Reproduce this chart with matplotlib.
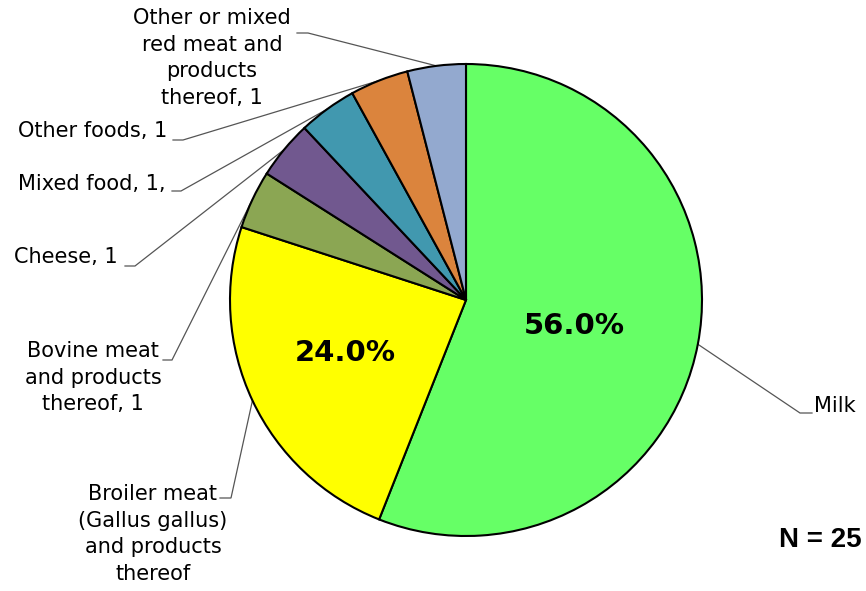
import matplotlib
matplotlib.use("Agg")
import matplotlib.pyplot as plt
import numpy as np

# Food categories and outbreak counts (N = 25)
categories = [
    "Milk",
    "Broiler meat\n(Gallus gallus)\nand products\nthereof",
    "Bovine meat\nand products\nthereof, 1",
    "Cheese, 1",
    "Mixed food, 1,",
    "Other foods, 1",
    "Other or mixed\nred meat and\nproducts\nthereof, 1",
]
counts = [14, 6, 1, 1, 1, 1, 1]
colors = ["#66FF66", "#FFFF00", "#8BA653", "#71588F", "#4198AF", "#DB843D", "#93A9CF"]
pct_shown = [True, True, False, False, False, False, False]

W, H = 866, 591
CX, CY, R = 466, 300, 236  # pie centre / radius in pixels


def px(x, y):
    """Pixel (top-left origin) to data coordinates where the pie radius is 1."""
    return (x - CX) / R, (CY - y) / R


fig = plt.figure(figsize=(W / 100, H / 100), dpi=100)
ax = fig.add_axes([0, 0, 1, 1])

FONT = "DejaVu Sans"

wedges, _ = ax.pie(
    counts,
    colors=colors,
    startangle=90,
    counterclock=False,
    radius=1.0,
    center=(0, 0),
    wedgeprops=dict(edgecolor="black", linewidth=1.5),
    frame=True,
)
ax.set_xlim(-CX / R, (W - CX) / R)
ax.set_ylim(-(H - CY) / R, CY / R)
ax.axis("off")

total = sum(counts)
# percentage labels inside the two large slices
pct_pos = [(574, 326), (345, 353)]
k = 0
for w, c, show in zip(wedges, counts, pct_shown):
    if not show:
        continue
    x, y = px(*pct_pos[k])
    k += 1
    ax.text(x, y, f"{100 * c / total:.1f}%", ha="center", va="center",
            fontsize=21, fontweight="bold", family=FONT)

# label layout: text anchor (px), alignment, tick y, tick near-text x, elbow x
layout = [
    dict(xy=(814, 406), ha="left", va="center", ty=413, tx=812, ex=800),
    dict(xy=(153, 484), ha="center", va="top", ty=498, tx=220, ex=231),
    dict(xy=(93, 341), ha="center", va="top", ty=360, tx=163, ex=172),
    dict(xy=(118, 257), ha="right", va="center", ty=266, tx=125, ex=135),
    dict(xy=(166, 184), ha="right", va="center", ty=191, tx=172, ex=181),
    dict(xy=(167, 131), ha="right", va="center", ty=140, tx=173, ex=183),
    dict(xy=(212, 8), ha="center", va="top", ty=33, tx=297, ex=308),
]

for w, label, lay in zip(wedges, categories, layout):
    mid = np.deg2rad((w.theta1 + w.theta2) / 2)
    ax_, ay_ = np.cos(mid), np.sin(mid)
    ex, ey = px(lay["ex"], lay["ty"])
    tx, ty = px(lay["tx"], lay["ty"])
    ax.plot([ax_, ex, tx], [ay_, ey, ty], color="#555555", linewidth=0.9,
            solid_joinstyle="miter", zorder=0)
    x, y = px(*lay["xy"])
    ax.text(x, y, label, ha=lay["ha"], va=lay["va"], fontsize=15,
            family=FONT, multialignment="center", linespacing=1.42)

x, y = px(862, 540)
ax.text(x, y, f"N = {total}", ha="right", va="center", fontsize=20,
        fontweight="bold", family="Liberation Sans")

fig.savefig("out.png", dpi=100)
